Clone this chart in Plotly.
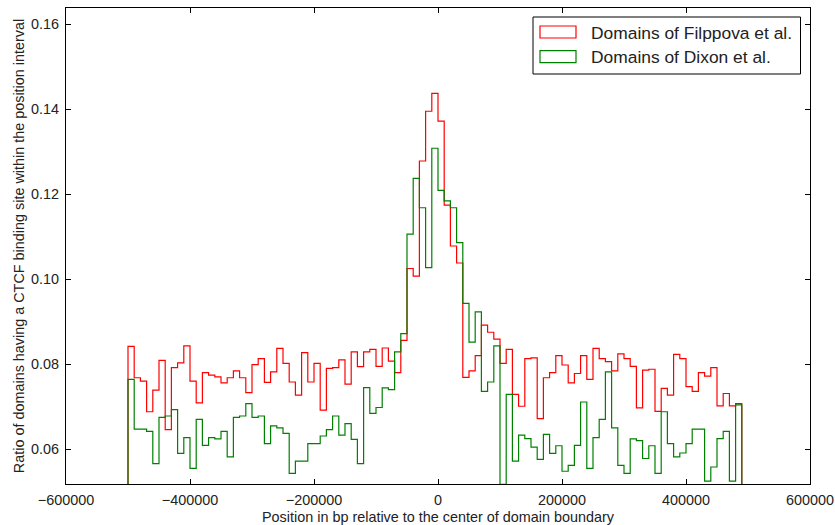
import numpy as np
import plotly.graph_objects as go

# Histogram bins: 10 kb wide, left edges from -500 kb up to 480 kb
BIN_START = -500000
BIN_STOP = 500000
BIN_WIDTH = 10000

# Fraction of domains with a CTCF site in each bin
filippova = [
    0.0842, 0.0768, 0.0760, 0.0688, 0.0739, 0.0809, 0.0646, 0.0792, 0.0803, 0.0843,
    0.0760, 0.0709, 0.0780, 0.0774, 0.0770, 0.0756, 0.0768, 0.0784, 0.0768, 0.0733,
    0.0799, 0.0813, 0.0757, 0.0782, 0.0837, 0.0802, 0.0758, 0.0727, 0.0827, 0.0758,
    0.0802, 0.0692, 0.0790, 0.0792, 0.0810, 0.0753, 0.0829, 0.0794, 0.0829, 0.0835,
    0.0795, 0.0838, 0.0807, 0.0780, 0.0856, 0.1025, 0.1007, 0.1278, 0.1395, 0.1437,
    0.1372, 0.1174, 0.1078, 0.1038, 0.0769, 0.0784, 0.0820, 0.0892, 0.0875, 0.0859,
    0.0802, 0.0835, 0.0729, 0.0701, 0.0813, 0.0815, 0.0672, 0.0768, 0.0780, 0.0820,
    0.0798, 0.0756, 0.0778, 0.0820, 0.0764, 0.0837, 0.0813, 0.0806, 0.0784, 0.0824,
    0.0813, 0.0795, 0.0697, 0.0786, 0.0788, 0.0689, 0.0743, 0.0727, 0.0823, 0.0813,
    0.0747, 0.0736, 0.0780, 0.0772, 0.0792, 0.0702, 0.0731, 0.0702, 0.0707,
]

dixon = [
    0.0764, 0.0647, 0.0647, 0.0642, 0.0566, 0.0675, 0.0678, 0.0693, 0.0590, 0.0627,
    0.0555, 0.0670, 0.0609, 0.0627, 0.0624, 0.0642, 0.0582, 0.0675, 0.0678, 0.0707,
    0.0675, 0.0678, 0.0613, 0.0655, 0.0650, 0.0637, 0.0543, 0.0572, 0.0572, 0.0613,
    0.0613, 0.0631, 0.0646, 0.0678, 0.0633, 0.0660, 0.0623, 0.0566, 0.0745, 0.0684,
    0.0698, 0.0744, 0.0740, 0.0829, 0.0872, 0.1106, 0.1237, 0.1168, 0.1027, 0.1308,
    0.1209, 0.1184, 0.1168, 0.1086, 0.0943, 0.0852, 0.0923, 0.0736, 0.0758, 0.0843,
    0.0517, 0.0729, 0.0572, 0.0633, 0.0625, 0.0605, 0.0576, 0.0635, 0.0590, 0.0608,
    0.0548, 0.0562, 0.0609, 0.0711, 0.0555, 0.0627, 0.0670, 0.0782, 0.0650, 0.0562,
    0.0543, 0.0624, 0.0620, 0.0578, 0.0608, 0.0543, 0.0688, 0.0613, 0.0582, 0.0591,
    0.0613, 0.0647, 0.0647, 0.0525, 0.0558, 0.0625, 0.0642, 0.0525, 0.0704,
]

series_names = ["Domains of Filppova et al.", "Domains of Dixon et al."]
series_colors = ["#ff0000", "#008000"]

x_tick_vals = [-600000, -400000, -200000, 0, 200000, 400000, 600000]
x_tick_text = ["\u2212600000", "\u2212400000", "\u2212200000", "0", "200000", "400000", "600000"]
y_tick_vals = [0.06, 0.08, 0.10, 0.12, 0.14, 0.16]
y_tick_text = ["0.06", "0.08", "0.10", "0.12", "0.14", "0.16"]

edges = np.arange(BIN_START, BIN_STOP + 1, BIN_WIDTH)[: len(filippova) + 1]


def step_outline(edges, values, base=0.0):
    """Outline of an unfilled step histogram, closed down to the baseline."""
    xs, ys = [edges[0]], [base]
    for i, v in enumerate(values):
        xs += [edges[i], edges[i + 1]]
        ys += [v, v]
    xs.append(edges[len(values)])
    ys.append(base)
    return xs, ys


W, H = 835, 525
ML, MR, MT, MB = 66, 25, 8, 41
PW, PH = W - ML - MR, H - MT - MB

fig = go.Figure()
for vals, name, color in zip([filippova, dixon], series_names, series_colors):
    xs, ys = step_outline(edges, vals)
    fig.add_trace(go.Scatter(x=xs, y=ys, mode="lines", name=name,
                             line=dict(color=color, width=1.2),
                             showlegend=False, hoverinfo="skip"))

FONT = "Liberation Sans, Arial, Helvetica, sans-serif"
axis_common = dict(
    showline=True, linecolor="#000000", linewidth=1, mirror="ticks",
    ticks="inside", ticklen=5, tickwidth=1, tickcolor="#000000",
    showgrid=False, zeroline=False, ticklabeloverflow="allow",
    ticklabelstandoff=3, automargin=False,
    tickfont=dict(family=FONT, size=14.4, color="#222222"),
)

fig.update_layout(
    width=W, height=H,
    margin=dict(l=ML, r=MR, t=MT, b=MB, autoexpand=False),
    paper_bgcolor="white", plot_bgcolor="white",
    font=dict(family=FONT, size=14.4, color="#222222"),
    showlegend=False,
    xaxis=dict(range=[-600000, 600000], tickvals=x_tick_vals, ticktext=x_tick_text,
               title=dict(text="Position in bp relative to the center of domain boundary",
                          font=dict(family=FONT, size=14.4, color="#222222"), standoff=6),
               **axis_common),
    yaxis=dict(range=[0.0518, 0.1638], tickvals=y_tick_vals, ticktext=y_tick_text,
               title=dict(text="Ratio of domains having a CTCF binding site within the position interval",
                          font=dict(family=FONT, size=14.4, color="#222222"), standoff=3),
               **axis_common),
)


# Legend box drawn in paper coordinates (pixel helpers)
def px_x(px):
    return (px - ML) / PW


def px_y(py):
    return (H - MB - py) / PH


shapes = [dict(type="rect", xref="paper", yref="paper",
               x0=px_x(533), x1=px_x(800.5), y0=px_y(74), y1=px_y(17),
               line=dict(color="#000000", width=1), fillcolor="white", layer="above")]
annotations = []
for k, (name, color) in enumerate(zip(series_names, series_colors)):
    top = 26 + k * 24.7
    shapes.append(dict(type="rect", xref="paper", yref="paper",
                       x0=px_x(540), x1=px_x(576), y0=px_y(top + 12), y1=px_y(top),
                       line=dict(color=color, width=1.2), fillcolor="rgba(0,0,0,0)",
                       layer="above"))
    annotations.append(dict(xref="paper", yref="paper", x=px_x(589), y=px_y(top + 6.5),
                            text=name, showarrow=False, xanchor="left", yanchor="middle",
                            font=dict(family=FONT, size=17.4, color="#222222")))
fig.update_layout(shapes=shapes, annotations=annotations)

fig.write_html("out.html")
